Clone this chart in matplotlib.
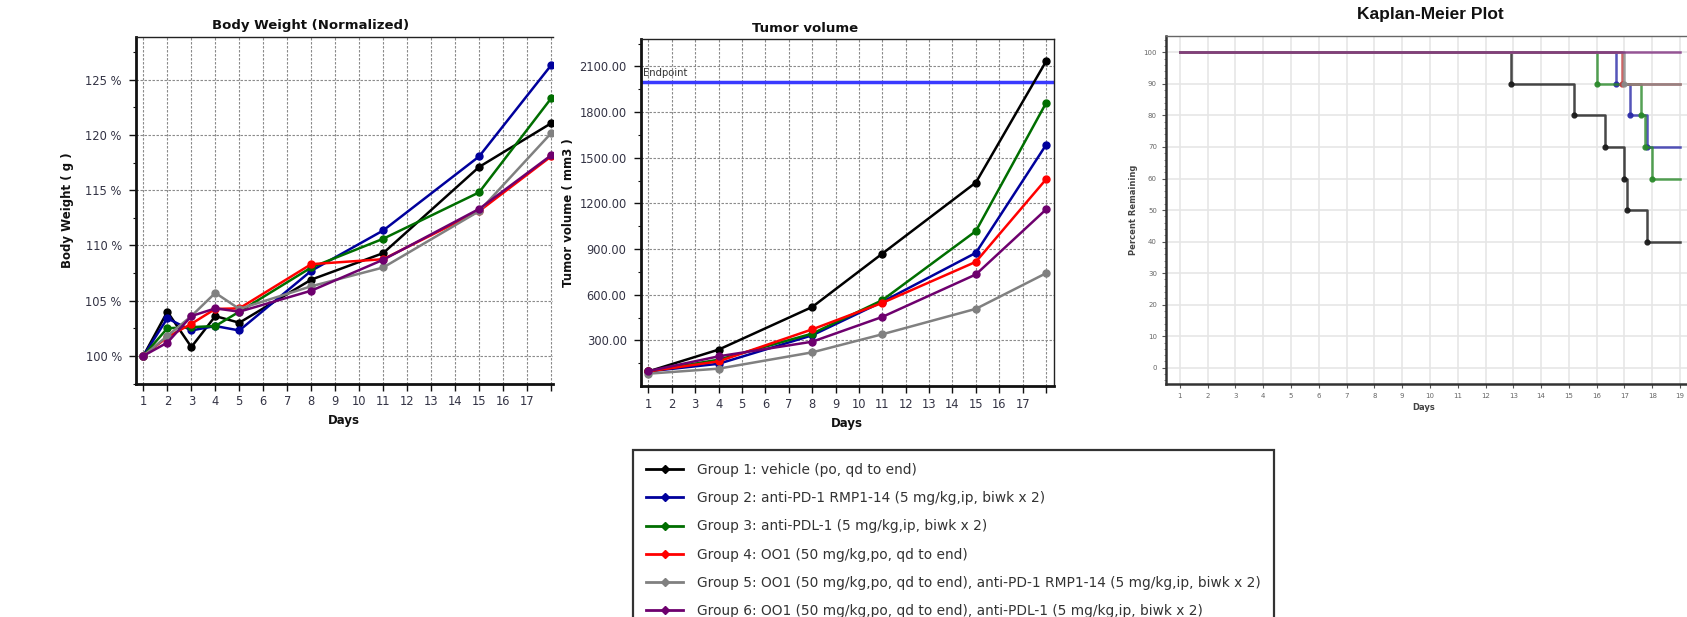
import matplotlib
matplotlib.use("Agg")
import matplotlib.pyplot as plt
from matplotlib.lines import Line2D
import numpy as np

W, H = 1687, 617

# ---------------- data ----------------
group_labels = [
    "Group 1: vehicle (po, qd to end)",
    "Group 2: anti-PD-1 RMP1-14 (5 mg/kg,ip, biwk x 2)",
    "Group 3: anti-PDL-1 (5 mg/kg,ip, biwk x 2)",
    "Group 4: OO1 (50 mg/kg,po, qd to end)",
    "Group 5: OO1 (50 mg/kg,po, qd to end), anti-PD-1 RMP1-14 (5 mg/kg,ip, biwk x 2)",
    "Group 6: OO1 (50 mg/kg,po, qd to end), anti-PDL-1 (5 mg/kg,ip, biwk x 2)",
]
group_colors = ["#000000", "#00009c", "#006e00", "#ff0000", "#808080", "#6e006e"]

bw_days = [1, 2, 3, 4, 5, 8, 11, 15, 18]
bw_g1 = [100, 104.0, 100.8, 103.6, 103.0, 106.9, 109.3, 117.1, 121.05]
bw_g2 = [100, 103.4, 102.3, 102.7, 102.3, 107.7, 111.35, 118.05, 126.3]
bw_g3 = [100, 102.5, 102.6, 102.7, 104.0, 108.0, 110.6, 114.8, 123.3]
bw_g4 = [100, 101.7, 102.9, 104.25, 104.3, 108.3, 108.75, 113.1, 118.05]
bw_g5 = [100, 101.8, 103.6, 105.7, 104.25, 106.3, 108.0, 113.1, 120.15]
bw_g6 = [100, 101.2, 103.6, 104.3, 104.0, 105.9, 108.7, 113.3, 118.15]

tv_days = [1, 4, 8, 11, 15, 18]
tv_g1 = [96, 239, 519, 870, 1337, 2133]
tv_g2 = [96, 146, 333, 553, 875, 1584]
tv_g3 = [96, 173, 344, 564, 1018, 1859]
tv_g4 = [96, 162, 372, 546, 816, 1358]
tv_g5 = [81, 114, 221, 340, 507, 741]
tv_g6 = [98, 195, 291, 454, 733, 1160]
endpoint = 2000

km_t_g1 = [1, 12.9, 15.2, 16.3, 17.0, 17.1, 17.8, 19]
km_s_g1 = [100, 90, 80, 70, 60, 50, 40, 40]
km_t_g2 = [1, 16.7, 17.2, 17.8, 19]
km_s_g2 = [100, 90, 80, 70, 70]
km_t_g3 = [1, 16.0, 17.6, 17.75, 18.0, 19]
km_s_g3 = [100, 90, 80, 70, 60, 60]
km_t_g4 = [1, 16.9, 19]
km_s_g4 = [100, 90, 90]
km_t_g5 = [1, 17.0, 19]
km_s_g5 = [100, 90, 90]
km_t_g6 = [1, 19]
km_s_g6 = [100, 100]

day_ticks = list(range(1, 19))
day_ticklabels = [str(d) for d in range(1, 18)] + [""]
km_day_ticks = list(range(1, 20))
km_pct_ticks = list(range(0, 101, 10))

bw_series = [bw_g1, bw_g2, bw_g3, bw_g4, bw_g5, bw_g6]
tv_series = [tv_g1, tv_g2, tv_g3, tv_g4, tv_g5, tv_g6]
km_series = [(km_t_g1, km_s_g1), (km_t_g2, km_s_g2), (km_t_g3, km_s_g3),
             (km_t_g4, km_s_g4), (km_t_g5, km_s_g5), (km_t_g6, km_s_g6)]

# ---------------- figure ----------------
plt.rcParams['font.family'] = ['DejaVu Sans']
fig = plt.figure(figsize=(W / 100, H / 100), dpi=100)
fig.patch.set_facecolor("white")


def px_axes(l, t, r, b):
    return fig.add_axes([l / W, 1 - b / H, (r - l) / W, (b - t) / H])


tick_color = "#333344"
grid_kw = dict(color="#8a8a8a", linestyle=(0, (2.2, 1.4)), linewidth=0.8)


def style_panel(ax, right_spine):
    ax.set_facecolor("white")
    for s in ["left", "bottom"]:
        ax.spines[s].set_linewidth(2.0)
        ax.spines[s].set_color("#111111")
    ax.spines["top"].set_linewidth(1.0)
    ax.spines["top"].set_color("#222222")
    if right_spine:
        ax.spines["right"].set_linewidth(1.0)
        ax.spines["right"].set_color("#222222")
    else:
        ax.spines["right"].set_visible(False)
    ax.set_xticks(day_ticks)
    ax.set_xticklabels(day_ticklabels)
    ax.tick_params(axis="both", which="major", direction="out", length=5,
                   width=1, colors="#111111", labelcolor=tick_color,
                   labelsize=8.3)
    ax.tick_params(axis="x", pad=3.5)
    ax.tick_params(axis="y", pad=5)
    ax.tick_params(axis="y", which="minor", direction="out", length=2.5,
                   width=0.8, colors="#111111")
    ax.grid(True, which="major", **grid_kw)
    ax.set_axisbelow(True)


# ---- Body weight ----
ax1 = px_axes(135.7, 37, 553, 383.5)
style_panel(ax1, right_spine=False)
for i, ys in enumerate(bw_series):
    ax1.plot(bw_days, ys, color=group_colors[i], lw=1.8, marker="o",
             markersize=5, zorder=3 + i)
ax1.set_xlim(0.68, 18.08)
ax1.set_ylim(97.5, 128.86)
bw_major = [100, 105, 110, 115, 120, 125]
ax1.set_yticks(bw_major)
ax1.set_yticklabels([f"{v} %" for v in bw_major])
ax1.set_yticks([97.5, 102.5, 107.5, 112.5, 117.5, 122.5, 127.5], minor=True)
ax1.set_title("Body Weight (Normalized)", fontsize=9.5, fontweight="bold",
              color="#111111", x=0.42, y=1.0, pad=6)
ax1.set_xlabel("Days", fontsize=8.5, fontweight="bold", color="#111111")
ax1.xaxis.set_label_coords(0.5, -0.088)
ax1.set_ylabel("Body Weight ( g )", fontsize=8.5, fontweight="bold", color="#111111")
ax1.yaxis.set_label_coords(-0.148, 0.5)

# ---- Tumor volume ----
ax2 = px_axes(640.5, 39, 1054, 386)
style_panel(ax2, right_spine=True)
for i, ys in enumerate(tv_series):
    ax2.plot(tv_days, ys, color=group_colors[i], lw=1.8, marker="o",
             markersize=5, zorder=3 + i)
ax2.axhline(endpoint, color="#3a3aff", lw=2.5, zorder=2)
ax2.set_xlim(0.66, 18.34)
ax2.set_ylim(0, 2280)
tv_major = [300, 600, 900, 1200, 1500, 1800, 2100]
ax2.set_yticks(tv_major)
ax2.set_yticklabels([f"{v:.2f}" for v in tv_major])
ax2.set_yticks([150, 450, 750, 1050, 1350, 1650, 1950, 2250], minor=True)
ax2.text(0.76, endpoint + 25, "Endpoint", fontsize=7.2, color="#333333",
         va="bottom", ha="left", zorder=10)
ax2.set_title("Tumor volume", fontsize=9.5, fontweight="bold",
              color="#111111", x=0.398, y=1.0, pad=5)
ax2.set_xlabel("Days", fontsize=8.5, fontweight="bold", color="#111111")
ax2.xaxis.set_label_coords(0.5, -0.088)
ax2.set_ylabel("Tumor volume ( mm3 )", fontsize=8.5, fontweight="bold", color="#111111")
ax2.yaxis.set_label_coords(-0.158, 0.5)

# ---- Kaplan-Meier ----
ax3 = px_axes(1166, 36, 1687, 383.5)
ax3.set_facecolor("white")
ax3.spines["right"].set_visible(False)
for s in ["left", "bottom"]:
    ax3.spines[s].set_linewidth(1.8)
    ax3.spines[s].set_color("#333333")
ax3.spines["top"].set_linewidth(1.0)
ax3.spines["top"].set_color("#666666")
km_colors = ["#1a1a1a", "#2a2aa8", "#2a8a2a", "#c04040", "#8a8a8a", "#803080"]
for i, (t, s) in enumerate(km_series):
    ax3.step(t, s, where="post", color=km_colors[i], lw=1.8, alpha=0.8,
             zorder=3 + i)
    if len(t) > 2:
        ax3.plot(t[1:-1], s[1:-1], "o", color=km_colors[i], markersize=3.5,
                 alpha=0.9, zorder=3 + i)
ax3.set_xlim(0.5, 19.25)
ax3.set_ylim(-5, 105.2)
ax3.set_xticks(km_day_ticks)
ax3.set_yticks(km_pct_ticks)
ax3.set_yticks(np.arange(-4, 105, 2), minor=True)
ax3.tick_params(axis="both", which="major", direction="out", length=3,
                width=0.8, colors="#555555", labelcolor="#666666", labelsize=5)
ax3.tick_params(axis="y", which="minor", direction="out", length=1.5,
                width=0.6, colors="#777777")
ax3.grid(True, which="major", color="#e6e6e6", lw=1.2)
ax3.set_axisbelow(True)
ax3.set_xlabel("Days", fontsize=6, fontweight="bold", color="#444444")
ax3.xaxis.set_label_coords(0.495, -0.056)
ax3.set_ylabel("Percent Remaining", fontsize=6, fontweight="bold", color="#444444")
ax3.yaxis.set_label_coords(-0.053, 0.5)
fig.text(1430 / W, 1 - 15 / H, "Kaplan-Meier Plot", fontsize=12.5,
         fontweight="bold", family="Liberation Sans", ha="center", va="center",
         color="#111111")

# ---- Legend ----
handles = [Line2D([0], [0], color=c, lw=2, marker="D", markersize=4)
           for c in group_colors]
x0, y_top, x1 = 633 / W, 1 - 450 / H, 1274 / W
leg = fig.legend(handles, group_labels, loc="upper left",
                 bbox_to_anchor=(x0, y_top - 0.4, x1 - x0, 0.4), mode="expand",
                 ncol=1, fontsize=9.9, frameon=True, fancybox=False,
                 borderpad=0.95, labelspacing=1.03, handlelength=2.7,
                 handletextpad=1.0, borderaxespad=0)
frame = leg.get_frame()
frame.set_edgecolor("#000000")
frame.set_linewidth(1.6)
for txt in leg.get_texts():
    txt.set_color("#333333")

fig.savefig("out.png", dpi=100, facecolor="white")
